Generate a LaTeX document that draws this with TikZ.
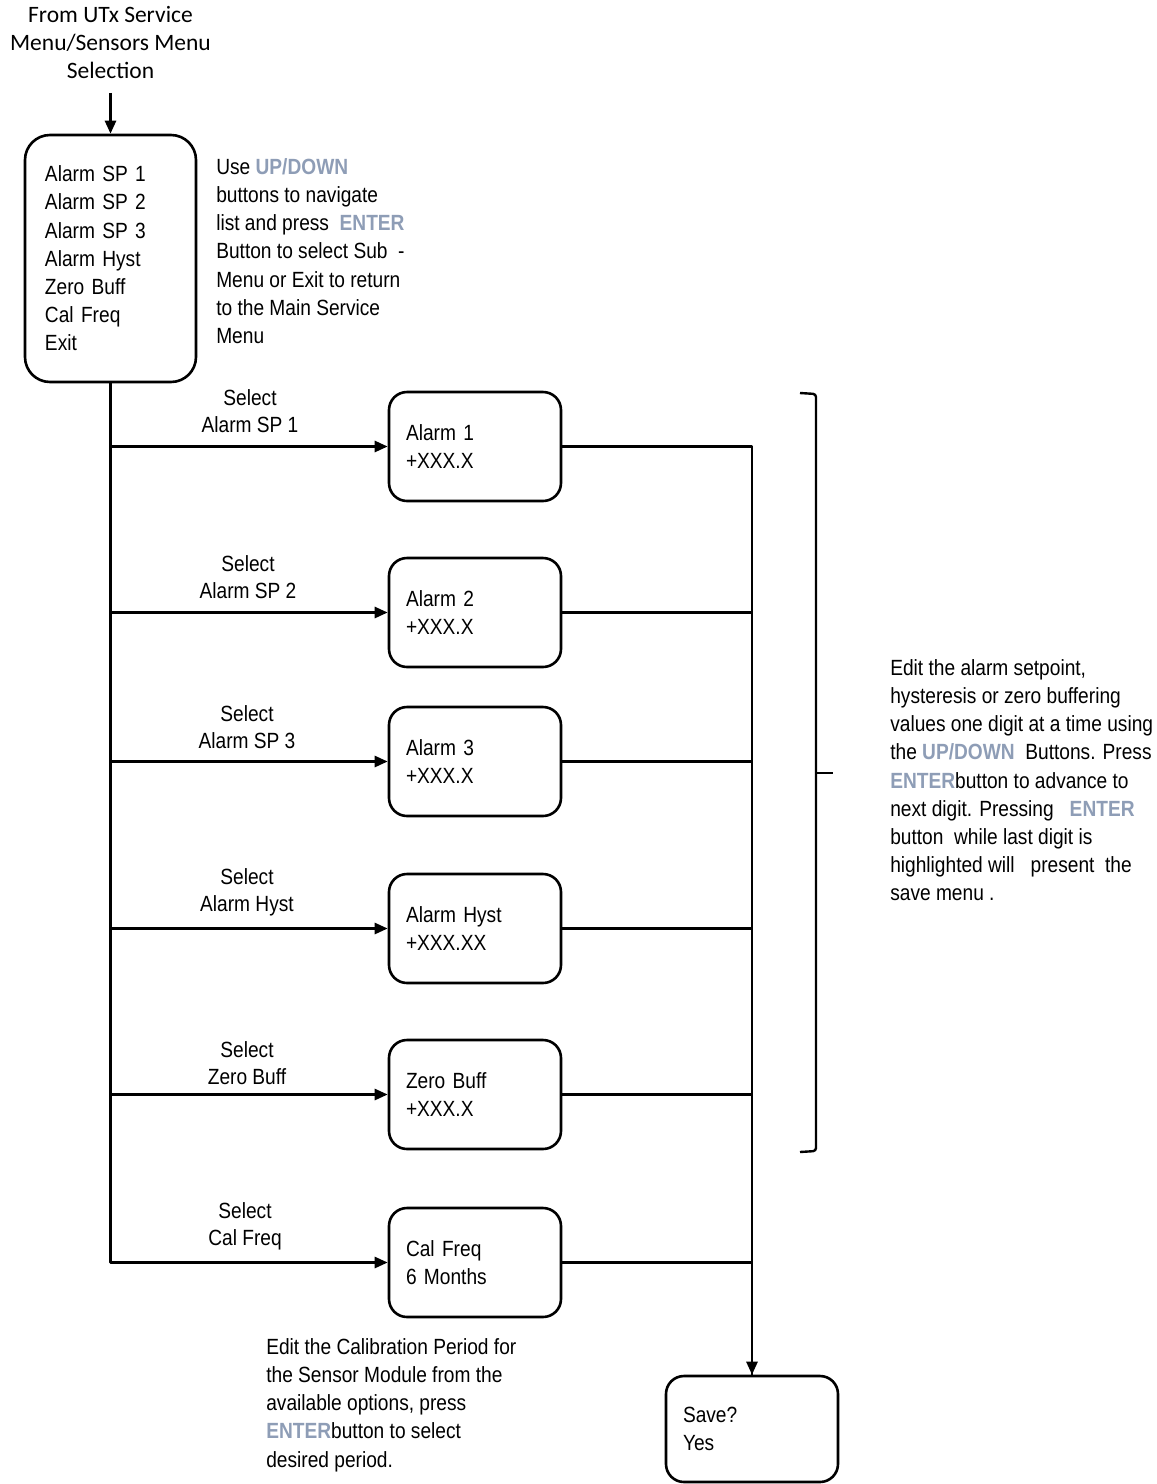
\documentclass[tikz,border=0pt]{standalone}
\usepackage{fontspec}
\setmainfont[FakeStretch=0.87]{Liberation Sans}
\newfontfamily\calfont{Carlito}
\usetikzlibrary{arrows.meta}
\definecolor{btnblue}{HTML}{8E9DB6}
\newcommand{\btn}[1]{\textcolor{btnblue}{\textbf{#1}}}

\begin{document}
\begin{tikzpicture}[x=1pt, y=-1pt, line width=2.6pt, line join=round,
  font=\fontsize{22}{28.2}\selectfont,
  menubox/.style={draw, rounded corners=18pt, minimum width=172pt, minimum height=109pt,
    text width=138pt, inner xsep=17pt, inner ysep=0pt, align=left},
  note/.style={anchor=north west, inner sep=0pt, align=left},
  sel/.style={inner sep=0pt, align=center, font=\fontsize{22}{27}\selectfont},
  arr/.style={-{Triangle[length=13pt,width=11pt]}}]

  %% ════ 入口 ════
  \node[font=\calfont\fontsize{23.5}{28}\selectfont, align=center, anchor=north, inner sep=0pt]
    (src) at (110.5,5) {From UTx Service\\Menu/Sensors Menu\\Selection};

  \node[draw, rounded corners=25pt, minimum width=171pt, minimum height=247pt,
    text width=131pt, inner xsep=20pt, inner ysep=0pt, align=left]
    (main) at (110.5,258.5) {Alarm SP 1\\Alarm SP 2\\Alarm SP 3\\Alarm Hyst\\Zero Buff\\Cal Freq\\Exit};

  \draw[arr, shorten <=13pt] (src) -- (main);

  %% ════ 子菜单 ════
  \node[menubox] (sp1)  at (475,446.5)  {Alarm 1\\+XXX.X};
  \node[menubox] (sp2)  at (475,612.5)  {Alarm 2\\+XXX.X};
  \node[menubox] (sp3)  at (475,761.5)  {Alarm 3\\+XXX.X};
  \node[menubox] (hyst) at (475,928.5)  {Alarm Hyst\\+XXX.XX};
  \node[menubox] (zero) at (475,1094.5) {Zero Buff\\+XXX.X};
  \node[menubox] (cal)  at (475,1262.5) {Cal Freq\\6 Months};
  \node[menubox, minimum height=106pt] (save) at (752,1429) {Save?\\Yes};

  %% ════ 连线 ════
  \foreach \b in {sp1,sp2,sp3,hyst,zero,cal}
    \draw[arr] (main.south) |- (\b.west);
  \draw[arr] (sp1.east) -| (save.north);
  \foreach \b in {sp2,sp3,hyst,zero,cal}
    \draw (\b.east) -| (save.north);

  %% ════ 标签 ════
  \node[sel] (l1) at (250,411.5)  {Select\\Alarm SP 1};
  \node[sel] (l2) at (248,577.5)  {Select\\Alarm SP 2};
  \node[sel] (l3) at (247,727.5)  {Select\\Alarm SP 3};
  \node[sel] (l4) at (247,892)    {Select\\Alarm Hyst};
  \node[sel] (l5) at (247,1063.5) {Select\\Zero Buff};
  \node[sel] (l6) at (245,1226)   {Select\\Cal Freq};

  %% ════ 右括号 ════
  \draw[line width=2.4pt, rounded corners=3pt] (800,393) -- (816,394) -- (816,1151) -- (800,1152);
  \draw[line width=2.4pt] (816,773) -- (833,773);

  %% ════ 说明文字 ════
  \node[note] (hintlist) at (215,157)
    {Use \btn{UP/DOWN}\\buttons to navigate\\list and press \ \btn{ENTER}\\Button to select Sub \ -\\Menu or Exit to return\\to the Main Service\\Menu};
  \node[note] (hintedit) at (889,658)
    {Edit the alarm setpoint,\\hysteresis or zero buffering\\values one digit at a time using\\the \btn{UP/DOWN} \ Buttons. Press\\\btn{ENTER}button to advance to\\next digit. Pressing \ \ \btn{ENTER}\\button \ while last digit is\\highlighted will \ \ present \ the\\save menu .};
  \node[note] (hintcal) at (265,1337)
    {Edit the Calibration Period for\\the Sensor Module from the\\available options, press\\\btn{ENTER}button to select\\desired period.};

  % 钉死画布
  \pgfresetboundingbox
  \path[use as bounding box] (0,0) rectangle (1157,1484);
\end{tikzpicture}
\end{document}
